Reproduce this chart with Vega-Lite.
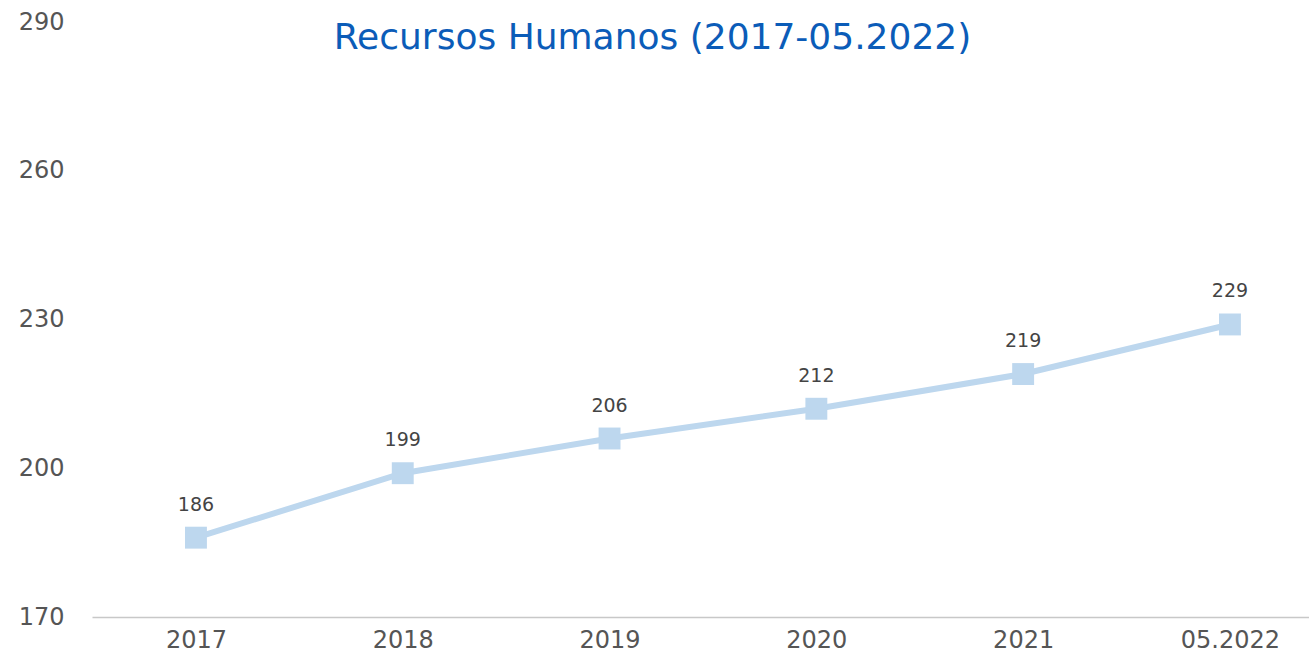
{
  "$schema": "https://vega.github.io/schema/vega-lite/v6.json",
  "autosize": "none",
  "padding": {"left": 92, "top": 22, "right": 0, "bottom": 40},
  "width": 1217,
  "height": 595,
  "background": "white",
  "title": {
    "text": "Recursos Humanos (2017-05.2022)",
    "font": "DejaVu Sans",
    "fontSize": 36,
    "fontWeight": "normal",
    "color": "#0b5cb8",
    "anchor": "middle",
    "baseline": "alphabetic",
    "offset": -28,
    "dy": 47,
    "dx": -48
  },
  "data": {
    "values": [
      {"year": "2017", "value": 186},
      {"year": "2018", "value": 199},
      {"year": "2019", "value": 206},
      {"year": "2020", "value": 212},
      {"year": "2021", "value": 219},
      {"year": "05.2022", "value": 229}
    ]
  },
  "encoding": {
    "x": {
      "field": "year",
      "type": "ordinal",
      "sort": null,
      "scale": {"type": "point", "padding": 0.4425, "align": 0.568},
      "axis": {
        "title": null,
        "labelAngle": 0,
        "ticks": false,
        "domain": true,
        "domainColor": "#c8c8c8",
        "domainWidth": 1.5,
        "labelFont": "DejaVu Sans",
        "labelFontSize": 24,
        "labelColor": "#555555",
        "labelPadding": 11,
        "grid": false
      }
    },
    "y": {
      "field": "value",
      "type": "quantitative",
      "scale": {"domain": [170, 290], "nice": false, "zero": false},
      "axis": {
        "title": null,
        "values": [170, 200, 230, 260, 290],
        "ticks": false,
        "domain": false,
        "grid": false,
        "labelFont": "DejaVu Sans",
        "labelFontSize": 24,
        "labelColor": "#555555",
        "labelPadding": 28,
        "labelBaseline": "middle"
      }
    }
  },
  "layer": [
    {"mark": {"type": "line", "color": "#bdd7ee", "strokeWidth": 6}},
    {"mark": {"type": "point", "shape": "square", "filled": true, "size": 480, "color": "#bdd7ee", "opacity": 1}},
    {
      "mark": {"type": "text", "dy": -33, "font": "DejaVu Sans", "fontSize": 19, "color": "#444444", "baseline": "middle"},
      "encoding": {"text": {"field": "value", "type": "quantitative"}}
    }
  ],
  "config": {"view": {"stroke": null}}
}
